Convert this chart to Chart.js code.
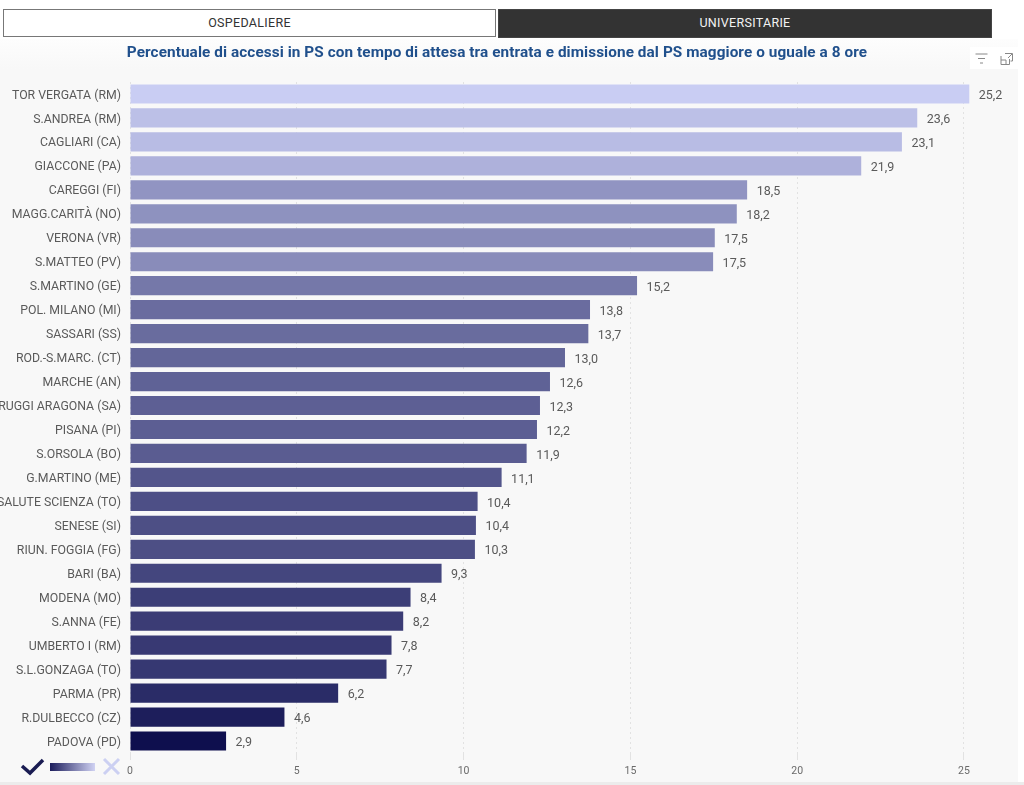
<!DOCTYPE html>
<html><head><meta charset="utf-8">
<script src="https://cdn.jsdelivr.net/npm/chart.js@4"></script>
<style>
html,body{margin:0;padding:0;width:1024px;height:785px;overflow:hidden;background:#fff;font-family:Roboto,sans-serif}
#panel{position:absolute;left:0;top:39px;width:1018px;height:743px;background:linear-gradient(#fdfdfd,#f8f8f8 30px)}
#bar{position:absolute;left:0;top:782px;width:1024px;height:3px;background:#ececec}
canvas{position:absolute;left:0;top:0}
.btn{position:absolute;top:9px;height:28px;line-height:26px;text-align:center;font-size:12.5px;letter-spacing:.3px;box-sizing:border-box}
#b1{left:3px;width:493px;background:#fff;color:#333;border:1px solid #777}
#b2{left:498px;width:494px;height:29px;background:#333;color:#f2f2f2;border:1px solid #444}
#title{position:absolute;left:0;top:42px;width:994px;text-align:center;font-size:15.3px;font-weight:700;color:#20508c;letter-spacing:.09px;line-height:20px;white-space:nowrap}
#icons{position:absolute;left:970px;top:47px;width:48px;height:22px;background:#fff}
svg{position:absolute}
#grad{position:absolute;left:50px;top:763px;width:45px;height:8px;background:linear-gradient(90deg,#1c1d5c,#d0d2f3)}
</style></head><body>
<div id="panel"></div><div id="bar"></div>
<canvas id="c" width="1024" height="785"></canvas>
<div class="btn" id="b1">OSPEDALIERE</div>
<div class="btn" id="b2">UNIVERSITARIE</div>
<div id="title">Percentuale di accessi in PS con tempo di attesa tra entrata e dimissione dal PS maggiore o uguale a 8 ore</div>
<div id="icons"></div>
<svg style="left:972px;top:50px" width="46" height="18" fill="none" stroke="#888" stroke-width="1">
<path d="M3.500 4h12M6 8.500h7M8 13h3"/><path d="M29 6v8.500h8.500v-5.500M29 10h5v4.500M33 3.500h7.500v7.500h-2M36 8l4-4"/></svg>
<svg style="left:20px;top:756px" width="26" height="22" fill="none" stroke="#1a1c52" stroke-width="3.500"><path d="M2 10l8 7L23 4"/></svg>
<div id="grad"></div>
<svg style="left:102px;top:757px" width="20" height="20" fill="none" stroke="#ccd0f2" stroke-width="3"><path d="M2 2l15 15M17 2L2 17"/></svg>
<script>
const categories=["TOR VERGATA (RM)","S.ANDREA (RM)","CAGLIARI (CA)","GIACCONE (PA)","CAREGGI (FI)","MAGG.CARITÀ (NO)","VERONA (VR)","S.MATTEO (PV)","S.MARTINO (GE)","POL. MILANO (MI)","SASSARI (SS)","ROD.-S.MARC. (CT)","MARCHE (AN)","RUGGI ARAGONA (SA)","PISANA (PI)","S.ORSOLA (BO)","G.MARTINO (ME)","SALUTE SCIENZA (TO)","SENESE (SI)","RIUN. FOGGIA (FG)","BARI (BA)","MODENA (MO)","S.ANNA (FE)","UMBERTO I (RM)","S.L.GONZAGA (TO)","PARMA (PR)","R.DULBECCO (CZ)","PADOVA (PD)"];
const values=[25.16,23.6,23.14,21.92,18.5,18.19,17.53,17.48,15.2,13.79,13.74,13.04,12.59,12.29,12.2,11.89,11.14,10.42,10.37,10.34,9.34,8.41,8.19,7.84,7.69,6.24,4.63,2.88];
const xTicks=[0,5,10,15,20,25];
const low=[14,15,78],high=[201,205,243];
const vMin=Math.min(...values),vMax=Math.max(...values);
const shade=v=>{const t=(v-vMin)/(vMax-vMin);return 'rgb('+low.map((c,i)=>Math.round(c+t*(high[i]-c))).join(',')+')';};
const valueLabels={id:'valueLabels',afterDatasetsDraw(ch){
  const ctx=ch.ctx;ctx.save();ctx.font='12.5px Roboto';ctx.fillStyle='#5a5a5a';ctx.textAlign='left';ctx.textBaseline='middle';
  ch.getDatasetMeta(0).data.forEach((b,i)=>ctx.fillText(values[i].toFixed(1).replace('.',','),b.x+9.5,b.y+2));
  ctx.restore();}};
new Chart(document.getElementById('c'),{type:'bar',plugins:[valueLabels],
 data:{labels:categories,datasets:[{data:values,backgroundColor:values.map(shade),barPercentage:.8,categoryPercentage:1}]},
 options:{indexAxis:'y',responsive:false,animation:false,
  layout:{padding:{top:82,right:10,bottom:0,left:0}},
  plugins:{legend:{display:false},tooltip:{enabled:false},title:{display:false}},
  scales:{
   x:{type:'linear',min:0,max:26.5,
      afterBuildTicks(a){a.ticks=xTicks.map(v=>({value:v}));},
      afterFit(a){a.height=32;},
      border:{display:false,dash:[2,3]},
      grid:{color:'#e2e2e2',lineWidth:1,drawTicks:true,tickLength:7},
      ticks:{font:{size:10.5,family:'Roboto'},color:'#6a6a6a',padding:5,maxRotation:0}},
   y:{afterFit(a){a.width=130;},
      border:{display:false},grid:{display:false,drawTicks:false},
      ticks:{font:{size:12.3,family:'Roboto'},color:'#5a5a5a',padding:9,autoSkip:false,labelOffset:1.5}}
  }}});
</script>
</body></html>
